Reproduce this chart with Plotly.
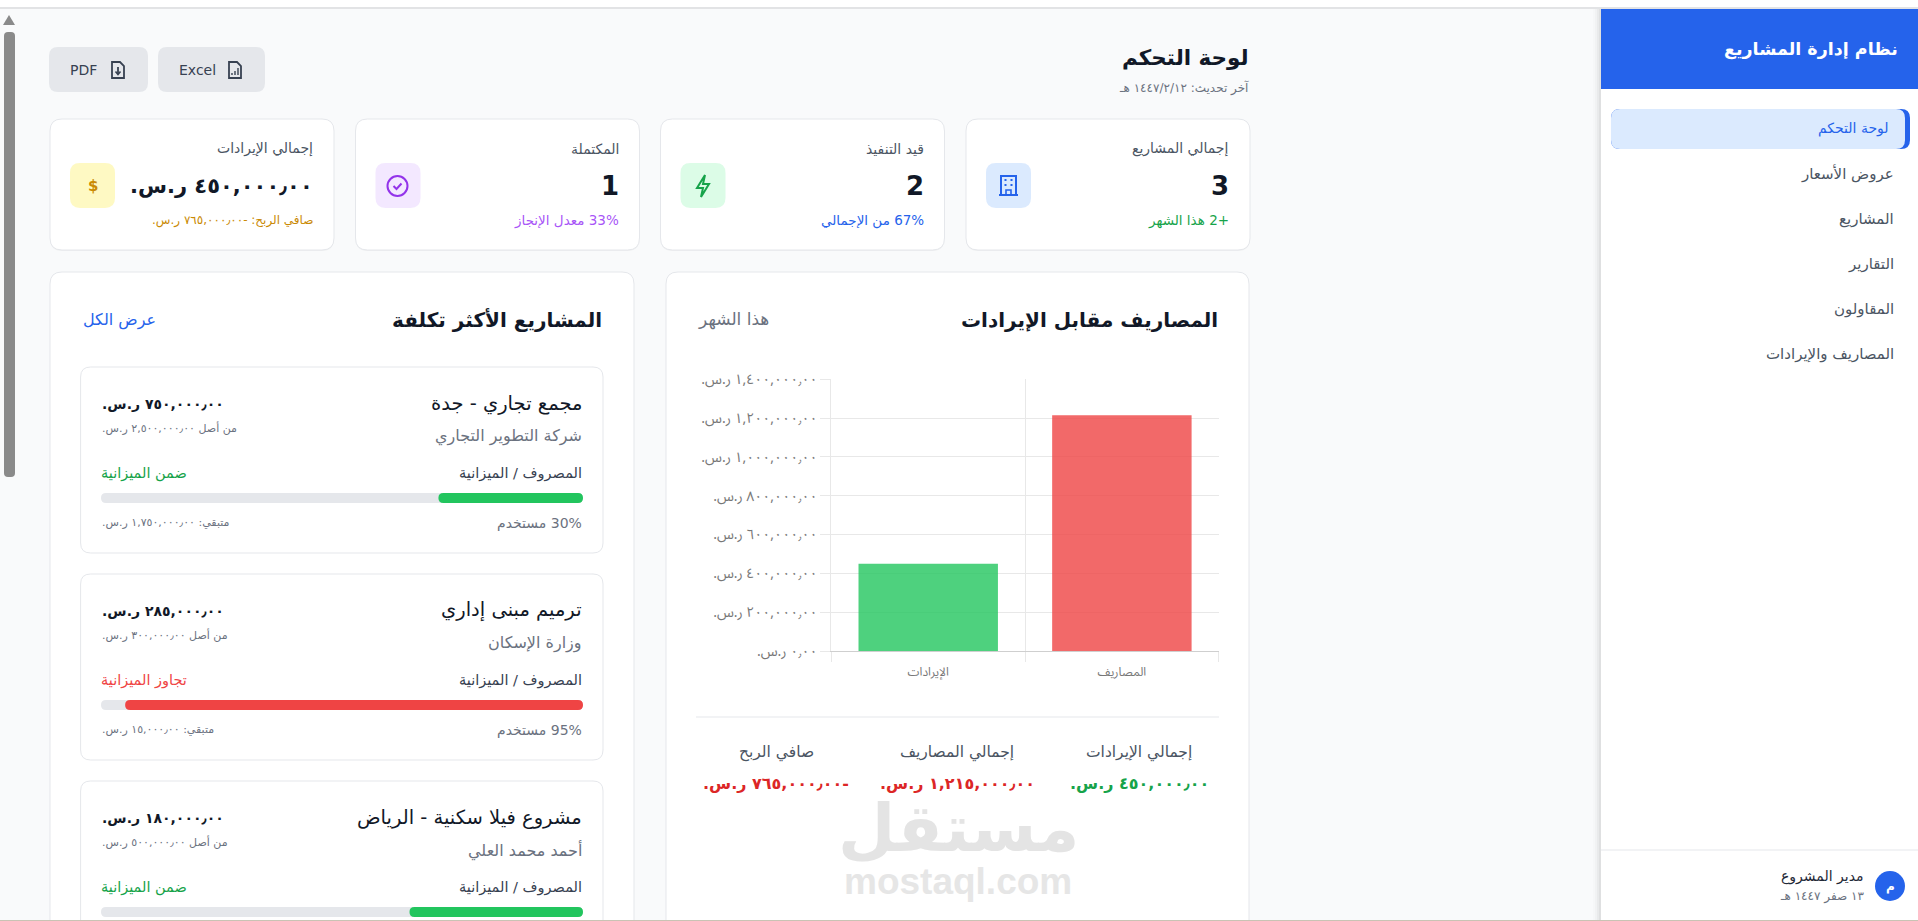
import plotly.graph_objects as go

W, H = 1918, 921
FONT = "DejaVu Sans, sans-serif"
TICK_FONT = "Noto Sans Arabic, Noto Sans, DejaVu Sans, sans-serif"

# data of the chart
categories = ["الإيرادات", "المصاريف"]
amounts = [450000, 1215000]
bar_colors = ["rgba(34,197,94,0.8)", "rgba(239,68,68,0.8)"]
ytick_vals = [0, 200000, 400000, 600000, 800000, 1000000, 1200000, 1400000]

# stat cards, left to right
stat_labels = ["إجمالي الإيرادات", "المكتملة", "قيد التنفيذ", "إجمالي المشاريع"]
stat_subs = ["صافي الربح: -٧٦٥,٠٠٠٫٠٠ ر.س.", "33% معدل الإنجاز", "67% من الإجمالي", "+2 هذا الشهر"]
stat_sub_colors = ["#CA8A04", "#A855F7", "#2563EB", "#16A34A"]
stat_box_colors = ["#FEF9C3", "#F3E8FF", "#DCFCE7", "#DBEAFE"]
project_counts = ["1", "2", "3"]

# projects
project_names = ["مجمع تجاري - جدة", "ترميم مبنى إداري", "مشروع فيلا سكنية - الرياض"]
project_clients = ["شركة التطوير التجاري", "وزارة الإسكان", "أحمد محمد العلي"]
project_spent = [750000, 285000, 180000]
project_budget = [2500000, 300000, 500000]
project_status = ["ضمن الميزانية", "تجاوز الميزانية", "ضمن الميزانية"]
project_colors = ["#22C55E", "#EF4444", "#22C55E"]
status_colors = ["#16A34A", "#EF4444", "#16A34A"]

nav_items = ["لوحة التحكم", "عروض الأسعار", "المشاريع", "التقارير", "المقاولون", "المصاريف والإيرادات"]
nav_y = [128, 174, 219, 264, 309, 354]

summary_labels = ["إجمالي الإيرادات", "إجمالي المصاريف", "صافي الربح"]
summary_colors = ["#16A34A", "#DC2626", "#DC2626"]
summary_x = [1139, 957, 776]


def X(px):
    return px / W


def Y(py):
    return 1 - py / H


def ar_money(v):
    s = f"{v:,.2f}".replace(".", "٫")
    return s.translate(str.maketrans("0123456789", "٠١٢٣٤٥٦٧٨٩")) + " ر.س."


shapes = []
annotations = []


def add_path(d, fill=None, line=None, lw=1):
    shapes.append(dict(type="path", path=d, xref="paper", yref="paper", layer="below",
                       fillcolor=fill or "rgba(0,0,0,0)",
                       line=dict(color=line or "rgba(0,0,0,0)", width=lw if line else 0)))


def P(x, y):
    return f"{X(x):.6f},{Y(y):.6f}"


def rrect(x0, y0, x1, y1, r, fill, line=None, lw=1):
    r = min(r, (x1 - x0) / 2, (y1 - y0) / 2)
    d = (f"M{P(x0 + r, y0)} L{P(x1 - r, y0)} Q{P(x1, y0)} {P(x1, y0 + r)} "
         f"L{P(x1, y1 - r)} Q{P(x1, y1)} {P(x1 - r, y1)} L{P(x0 + r, y1)} "
         f"Q{P(x0, y1)} {P(x0, y1 - r)} L{P(x0, y0 + r)} Q{P(x0, y0)} {P(x0 + r, y0)} Z")
    add_path(d, fill, line, lw)


def poly(points, fill=None, line=None, lw=1, close=False):
    d = "M" + " L".join(P(a, b) for a, b in points) + (" Z" if close else "")
    add_path(d, fill, line, lw)


def circle(cx, cy, r, fill=None, line=None, lw=1):
    shapes.append(dict(type="circle", xref="paper", yref="paper", layer="below",
                       x0=X(cx - r), x1=X(cx + r), y0=Y(cy + r), y1=Y(cy - r),
                       fillcolor=fill or "rgba(0,0,0,0)",
                       line=dict(color=line or "rgba(0,0,0,0)", width=lw if line else 0)))


def text(x, y, s, size, color, anchor="right", weight=400, font=FONT, rtl=True):
    annotations.append(dict(
        x=X(x), y=Y(y), xref="paper", yref="paper", showarrow=False,
        xanchor=anchor, yanchor="middle", borderpad=0, borderwidth=0,
        text=("\u202b" + s + "\u202c") if rtl else s,
        font=dict(family=font, size=size, color=color, weight=weight)))


def card(x0, y0, x1, y1, r=12):
    rrect(x0, y0 + 1, x1, y1 + 1, r, "rgba(0,0,0,0.04)")
    rrect(x0, y0, x1, y1, r, "#FFFFFF", "#E5E7EB", 1)


# page frame
rrect(0, 0, W, 7, 0, "#FFFFFF")
rrect(0, 7, W, 9, 0, "#E2E3E5")

# scrollbar
poly([(3, 25), (9, 15), (15, 25)], fill="#8A8A8A", close=True)
rrect(4, 32, 15, 477, 4, "#8A8A8A")

# sidebar
for i, a in enumerate([0.012, 0.02, 0.03, 0.04]):
    rrect(1593 + i * 2, 9, 1601, 920, 0, f"rgba(0,0,0,{a})")
rrect(1601, 9, W, 920, 0, "#FFFFFF")
rrect(1601, 9, W, 89, 0, "#2563EB")
text(1898, 49, "نظام إدارة المشاريع", 17.5, "#FFFFFF", weight=700)
rrect(1611, 109, 1910, 149, 9, "#2563EB")
rrect(1611, 109, 1905, 149, 9, "#DBEAFE")
for i, (label, y) in enumerate(zip(nav_items, nav_y)):
    if i == 0:
        text(1889, y, label, 14, "#2563EB")
    else:
        text(1894, y, label, 15, "#4B5563")
poly([(1601, 850), (W, 850)], line="#E5E7EB", lw=1)
circle(1890, 886, 15, fill="#2563EB")
text(1890, 886, "م", 12, "#FFFFFF", anchor="center", weight=700)
text(1864, 876, "مدير المشروع", 14, "#1F2937", weight=500)
text(1864, 896, "١٣ صفر ١٤٤٧ هـ", 12, "#6B7280")

# header
text(1249, 57, "لوحة التحكم", 21.5, "#111827", weight=700)
text(1249, 88, "آخر تحديث: ١٤٤٧/٢/١٢ هـ", 12, "#6B7280")
rrect(49, 47, 148, 92, 9, "#E5E7EB")
rrect(158, 47, 265, 92, 9, "#E5E7EB")
text(83, 70, "PDF", 14, "#374151", anchor="center", rtl=False)
text(197, 70, "Excel", 14, "#374151", anchor="center", rtl=False)
for cx in (118, 235):
    poly([(cx - 6, 62), (cx + 2, 62), (cx + 6, 66), (cx + 6, 78), (cx - 6, 78)],
         line="#374151", lw=1.8, close=True)
poly([(118, 67), (118, 74)], line="#374151", lw=1.8)
poly([(115.5, 71.5), (118, 74.5), (120.5, 71.5)], line="#374151", lw=1.6)
for dx, top in ((-3, 73), (0, 71), (3, 68)):
    poly([(235 + dx, 75), (235 + dx, top)], line="#374151", lw=1.4)

# stat cards
stat_x0 = [50, 355.5, 660.5, 966]
stat_values = [ar_money(amounts[0])] + project_counts
for i, x0 in enumerate(stat_x0):
    x1 = x0 + 284
    card(x0, 119, x1, 250)
    text(x1 - 21, 149, stat_labels[i], 14, "#4B5563")
    text(x1 - 21, 186, stat_values[i], 21 if i == 0 else 26, "#111827", weight=700)
    text(x1 - 21, 220, stat_subs[i], 12 if i == 0 else 13.5, stat_sub_colors[i])
    rrect(x0 + 20, 163, x0 + 65, 208, 10, stat_box_colors[i])

# icons in the stat boxes
text(92.6, 186, "$", 15, "#CA8A04", anchor="center", weight=700, rtl=False)
circle(397.5, 186, 10, line="#9333EA", lw=2)
poly([(393.5, 186), (396.5, 189), (401.5, 183.5)], line="#9333EA", lw=2)
poly([(705, 175), (697, 188), (703, 188), (701, 197), (709, 184), (703, 184)],
     line="#16A34A", lw=2, close=True)
poly([(1001, 195), (1001, 176), (1016, 176), (1016, 195)], line="#2563EB", lw=2)
poly([(999, 195), (1018, 195)], line="#2563EB", lw=2)
poly([(1006, 195), (1006, 190), (1011, 190), (1011, 195)], line="#2563EB", lw=1.6)
for wx in (1005.5, 1011.5):
    for wy in (180, 185):
        rrect(wx - 1, wy - 1, wx + 1, wy + 1, 0, "#2563EB")

# big panels
card(50, 272, 634, 980)
card(666, 272, 1249, 980)
text(602, 320, "المشاريع الأكثر تكلفة", 20, "#111827", weight=700)
text(156, 320, "عرض الكل", 16, "#2563EB")
text(1218, 320, "المصاريف مقابل الإيرادات", 20, "#111827", weight=700)
text(769, 320, "هذا الشهر", 17, "#6B7280")

# project cards, the third one runs off the bottom of the page
card_y = [367, 574, 781]
for i, y in enumerate(card_y):
    rrect(80.6, y, 603, y + 186, 10, "#FFFFFF", "#E5E7EB", 1)
    spent, budget = project_spent[i], project_budget[i]
    used = spent / budget
    text(581.5, y + 36, project_names[i], 19.5, "#111827", weight=500)
    text(581.5, y + 69, project_clients[i], 16, "#6B7280")
    text(102, y + 37, ar_money(spent), 14, "#111827", anchor="left", weight=700)
    text(102, y + 61, "من أصل " + ar_money(budget), 11, "#6B7280", anchor="left")
    text(582, y + 106, "المصروف / الميزانية", 14.5, "#374151")
    text(101, y + 106, project_status[i], 14.5, status_colors[i], anchor="left")
    rrect(101, y + 126, 583, y + 136, 5, "#E5E7EB")
    rrect(583 - 482 * used, y + 126, 583, y + 136, 5, project_colors[i])
    if y + 155.5 < H:
        text(582, y + 155.5, f"{used * 100:.0f}% مستخدم", 14, "#6B7280")
        text(102, y + 155.5, "متبقي: " + ar_money(budget - spent), 11, "#6B7280", anchor="left")

# totals under the chart
poly([(696, 717), (1219, 717)], line="#E5E7EB", lw=1)
summary_values = [ar_money(amounts[0]), ar_money(amounts[1]), "-" + ar_money(amounts[1] - amounts[0])]
for label, val, col, x in zip(summary_labels, summary_values, summary_colors, summary_x):
    text(x, 752, label, 15.5, "#4B5563", anchor="center")
    text(x, 783, val, 16, col, anchor="center", weight=700)

# watermark
text(958, 828, "مستقل", 66, "#E4E4E4", anchor="center", weight=800)
text(958, 881, "mostaql.com", 37, "#E6E6E6", anchor="center", weight=700,
     font="Liberation Sans, sans-serif", rtl=False)

# thin line along the bottom edge of the page
rrect(0, 920, W, 921, 0, "#C9C3B4")

fig = go.Figure(go.Bar(
    x=categories, y=amounts, width=0.72,
    marker=dict(color=bar_colors, line=dict(width=0)),
    hoverinfo="skip"))

fig.update_layout(
    template="none",
    width=W, height=H, margin=dict(l=0, r=0, t=0, b=0, pad=0),
    paper_bgcolor="#F9FAFB", plot_bgcolor="rgba(0,0,0,0)",
    showlegend=False, shapes=shapes, annotations=annotations,
    font=dict(family=FONT),
    xaxis=dict(domain=[X(831.4), X(1218.7)], type="category", range=[-0.5, 1.5], automargin=False,
               tickson="boundaries", ticks="outside", ticklen=10, tickcolor="#E8E8E8",
               showgrid=True, gridcolor="#E8E8E8", gridwidth=1, zeroline=False,
               showline=True, linecolor="#CFCFCF", linewidth=1, mirror=False,
               ticklabelstandoff=10,
               tickfont=dict(size=12, color="#777777", family=TICK_FONT)),
    yaxis=dict(domain=[Y(651), Y(379.3)], range=[0, 1400000], automargin=False,
               tickvals=ytick_vals,
               ticktext=["\u202b" + ar_money(v) + "\u202c" for v in ytick_vals],
               ticks="outside", ticklen=10, tickcolor="#E8E8E8",
               showgrid=True, gridcolor="#E8E8E8", gridwidth=1, zeroline=False,
               showline=True, linecolor="#E8E8E8", linewidth=1,
               tickfont=dict(size=14, color="#777777", family=TICK_FONT)),
)

fig.write_html("out.html", config=dict(displayModeBar=False),
               post_script="document.body.style.margin='0';document.body.style.overflow='hidden';")
